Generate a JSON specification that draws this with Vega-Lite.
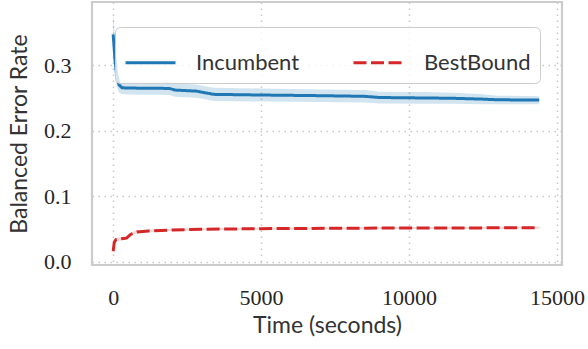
{
  "$schema": "https://vega.github.io/schema/vega-lite/v6.json",
  "width": 470,
  "height": 263,
  "autosize": "none",
  "padding": {"left": 92, "top": 2, "right": 26, "bottom": 84},
  "background": "white",
  "config": {
    "view": {"stroke": "#cccccc", "strokeWidth": 2.2},
    "axis": {
      "domain": false,
      "ticks": false,
      "grid": true,
      "gridColor": "#c8c8c8",
      "gridDash": [1.5, 4.5],
      "gridWidth": 1.5,
      "labelFont": "Liberation Serif",
      "labelFontSize": 22,
      "labelColor": "#262626",
      "titleFont": "Lato",
      "titleFontSize": 23,
      "titleFontWeight": "normal",
      "titleColor": "#333333"
    },
    "legend": {
      "labelFont": "Lato",
      "labelFontSize": 22,
      "labelFontWeight": "normal",
      "labelColor": "#333333"
    }
  },
  "datasets": {
    "inc": [
      {"t": 0, "v": 0.347, "lo": 0.315, "hi": 0.380, "series": "Incumbent"},
      {"t": 20, "v": 0.335, "lo": 0.300, "hi": 0.370, "series": "Incumbent"},
      {"t": 60, "v": 0.310, "lo": 0.285, "hi": 0.340, "series": "Incumbent"},
      {"t": 120, "v": 0.285, "lo": 0.268, "hi": 0.300, "series": "Incumbent"},
      {"t": 200, "v": 0.270, "lo": 0.258, "hi": 0.282, "series": "Incumbent"},
      {"t": 300, "v": 0.2655, "lo": 0.256, "hi": 0.275, "series": "Incumbent"},
      {"t": 800, "v": 0.265, "lo": 0.255, "hi": 0.275, "series": "Incumbent"},
      {"t": 1500, "v": 0.2648, "lo": 0.255, "hi": 0.2745, "series": "Incumbent"},
      {"t": 1900, "v": 0.2645, "lo": 0.2545, "hi": 0.2745, "series": "Incumbent"},
      {"t": 2100, "v": 0.262, "lo": 0.252, "hi": 0.272, "series": "Incumbent"},
      {"t": 2800, "v": 0.2605, "lo": 0.2505, "hi": 0.2705, "series": "Incumbent"},
      {"t": 3100, "v": 0.258, "lo": 0.248, "hi": 0.268, "series": "Incumbent"},
      {"t": 3400, "v": 0.2555, "lo": 0.2455, "hi": 0.2655, "series": "Incumbent"},
      {"t": 5000, "v": 0.2545, "lo": 0.2445, "hi": 0.2645, "series": "Incumbent"},
      {"t": 7000, "v": 0.2535, "lo": 0.2440, "hi": 0.2630, "series": "Incumbent"},
      {"t": 8500, "v": 0.2525, "lo": 0.2430, "hi": 0.2620, "series": "Incumbent"},
      {"t": 9000, "v": 0.2507, "lo": 0.2415, "hi": 0.2595, "series": "Incumbent"},
      {"t": 10500, "v": 0.2500, "lo": 0.2410, "hi": 0.2590, "series": "Incumbent"},
      {"t": 11500, "v": 0.2495, "lo": 0.2410, "hi": 0.2580, "series": "Incumbent"},
      {"t": 12500, "v": 0.2482, "lo": 0.2405, "hi": 0.2555, "series": "Incumbent"},
      {"t": 13000, "v": 0.2472, "lo": 0.2405, "hi": 0.2535, "series": "Incumbent"},
      {"t": 14400, "v": 0.2468, "lo": 0.2405, "hi": 0.2525, "series": "Incumbent"}
    ],
    "best": [
      {"t": 0, "v": 0.016, "lo": 0.012, "hi": 0.020, "series": "BestBound"},
      {"t": 40, "v": 0.030, "lo": 0.027, "hi": 0.033, "series": "BestBound"},
      {"t": 100, "v": 0.034, "lo": 0.0315, "hi": 0.0365, "series": "BestBound"},
      {"t": 250, "v": 0.035, "lo": 0.0325, "hi": 0.0375, "series": "BestBound"},
      {"t": 450, "v": 0.036, "lo": 0.0335, "hi": 0.0385, "series": "BestBound"},
      {"t": 600, "v": 0.042, "lo": 0.0395, "hi": 0.0445, "series": "BestBound"},
      {"t": 800, "v": 0.0455, "lo": 0.0435, "hi": 0.0475, "series": "BestBound"},
      {"t": 1200, "v": 0.047, "lo": 0.0452, "hi": 0.0488, "series": "BestBound"},
      {"t": 2000, "v": 0.0485, "lo": 0.0468, "hi": 0.0502, "series": "BestBound"},
      {"t": 3000, "v": 0.0495, "lo": 0.0479, "hi": 0.0511, "series": "BestBound"},
      {"t": 5000, "v": 0.0505, "lo": 0.0490, "hi": 0.0520, "series": "BestBound"},
      {"t": 8000, "v": 0.0512, "lo": 0.0497, "hi": 0.0527, "series": "BestBound"},
      {"t": 10000, "v": 0.0515, "lo": 0.0500, "hi": 0.0530, "series": "BestBound"},
      {"t": 14400, "v": 0.0518, "lo": 0.0503, "hi": 0.0533, "series": "BestBound"}
    ]
  },
  "layer": [
    {
      "data": {"name": "inc"},
      "mark": {"type": "area", "opacity": 0.2},
      "encoding": {
        "x": {"field": "t", "type": "quantitative"},
        "y": {"field": "lo", "type": "quantitative"},
        "y2": {"field": "hi"},
        "fill": {"value": "#1f77b4"}
      }
    },
    {
      "data": {"name": "best"},
      "mark": {"type": "area", "opacity": 0.2},
      "encoding": {
        "x": {"field": "t", "type": "quantitative"},
        "y": {"field": "lo", "type": "quantitative"},
        "y2": {"field": "hi"},
        "fill": {"value": "#d62728"}
      }
    },
    {
      "data": {"name": "inc"},
      "mark": {"type": "line", "strokeWidth": 3, "clip": true},
      "encoding": {
        "x": {"field": "t", "type": "quantitative"},
        "y": {"field": "v", "type": "quantitative"},
        "color": {"field": "series", "type": "nominal"},
        "strokeDash": {"field": "series", "type": "nominal"}
      }
    },
    {
      "data": {"name": "best"},
      "mark": {"type": "line", "strokeWidth": 3, "clip": true},
      "encoding": {
        "x": {
          "field": "t", "type": "quantitative",
          "scale": {"domain": [-715, 15170], "nice": false, "zero": false},
          "axis": {"values": [0, 5000, 10000, 15000], "format": "d", "labelPadding": 22, "title": "Time (seconds)", "titlePadding": 6}
        },
        "y": {
          "field": "v", "type": "quantitative",
          "scale": {"domain": [-0.005, 0.3965], "nice": false, "zero": false},
          "axis": {"values": [0, 0.1, 0.2, 0.3], "format": ".1f", "labelPadding": 21, "title": "Balanced Error Rate", "titlePadding": 12}
        },
        "color": {
          "field": "series", "type": "nominal",
          "scale": {"domain": ["Incumbent", "BestBound"], "range": ["#1f77b4", "#d62728"]},
          "legend": {
            "title": null, "orient": "none", "legendX": 23, "legendY": 25,
            "direction": "horizontal", "columns": 2, "columnPadding": 47,
            "symbolType": "stroke", "symbolSize": 2500, "symbolStrokeWidth": 3,
            "labelOffset": 19, "padding": 9, "strokeColor": "#cccccc",
            "fillColor": "rgba(255,255,255,0.8)", "cornerRadius": 5
          }
        },
        "strokeDash": {
          "field": "series", "type": "nominal",
          "scale": {"domain": ["Incumbent", "BestBound"], "range": [[1, 0], [13, 4.5]]},
          "legend": {
            "title": null, "orient": "none", "legendX": 23, "legendY": 25,
            "direction": "horizontal", "columns": 2, "columnPadding": 47,
            "symbolType": "stroke", "symbolSize": 2500, "symbolStrokeWidth": 3,
            "labelOffset": 19, "padding": 9, "strokeColor": "#cccccc",
            "fillColor": "rgba(255,255,255,0.8)", "cornerRadius": 5
          }
        }
      }
    }
  ]
}
